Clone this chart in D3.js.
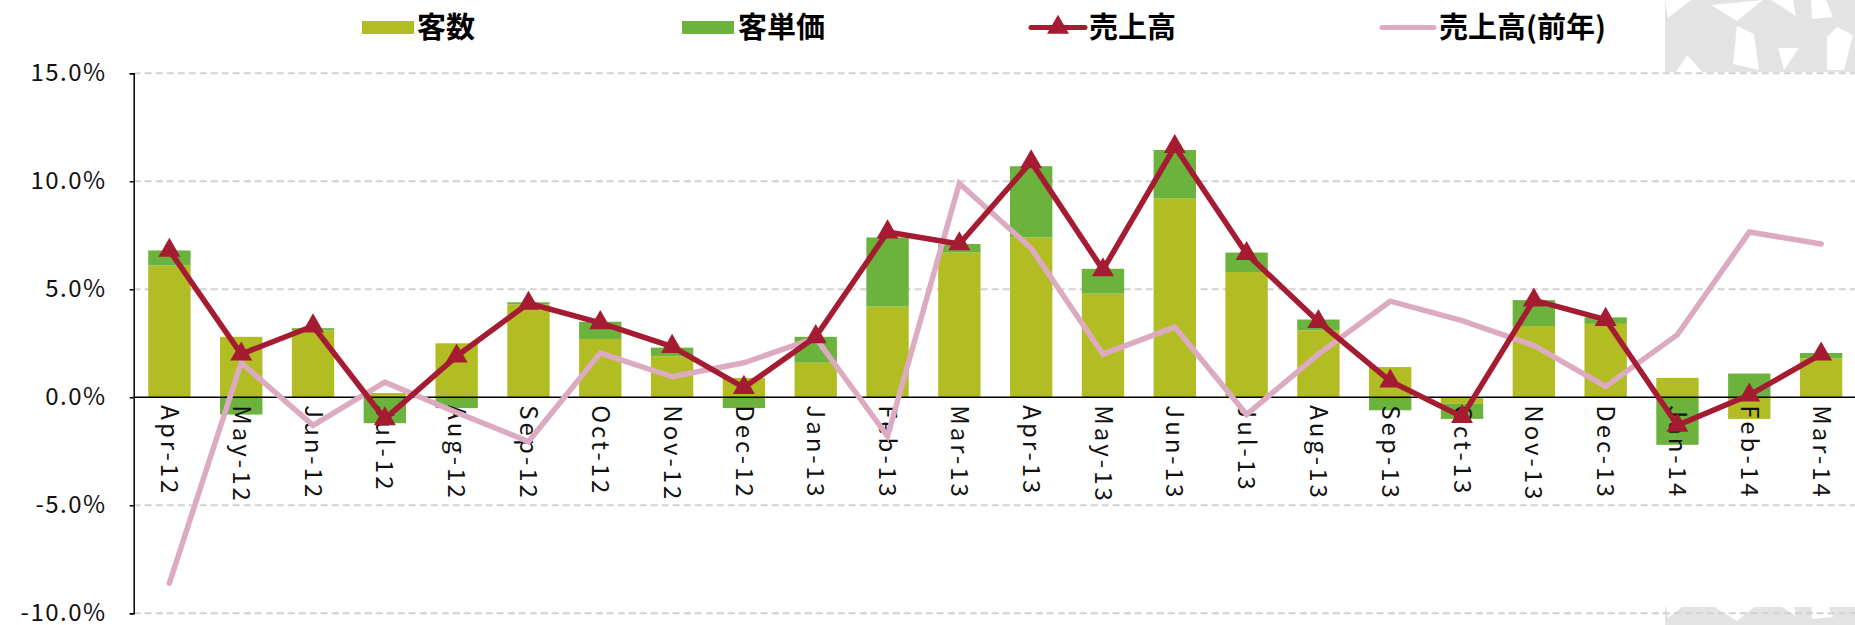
<!DOCTYPE html>
<html>
<head>
<meta charset="utf-8">
<script src="https://cdn.jsdelivr.net/npm/d3@7"></script>
<style>
  body { margin: 0; background: #fff; }
  svg { display: block; font-family: "Noto Sans CJK JP", "Noto Sans", sans-serif; }
</style>
</head>
<body>
<div id="chart"></div>
<script>
// Mesos
const categories = ["Apr-12","May-12","Jun-12","Jul-12","Aug-12","Sep-12","Oct-12","Nov-12","Dec-12",
  "Jan-13","Feb-13","Mar-13","Apr-13","May-13","Jun-13","Jul-13","Aug-13","Sep-13","Oct-13","Nov-13","Dec-13",
  "Jan-14","Feb-14","Mar-14"];

// 客数 (nombre de clients)
const kyakusu = [6.1, 2.8, 3.1, 0.2, 2.5, 4.3, 2.7, 1.9, 0.9, 1.6, 4.2, 6.7, 7.4, 4.8, 9.2, 5.8, 3.1, 1.4, -0.3, 3.3, 3.4, 0.9, -1.0, 1.8];
// 客単価 (preu per client)
const tanka = [0.7, -0.8, 0.1, -1.2, -0.5, 0.1, 0.8, 0.4, -0.5, 1.2, 3.2, 0.4, 3.3, 1.15, 2.25, 0.9, 0.5, -0.6, -0.7, 1.2, 0.3, -2.2, 1.1, 0.25];
// 売上高
const uriage = [6.8, 2.0, 3.3, -1.0, 1.9, 4.35, 3.45, 2.35, 0.45, 2.8, 7.65, 7.1, 10.9, 5.9, 11.6, 6.65, 3.5, 0.75, -0.9, 4.5, 3.6, -1.3, 0.1, 2.0];
// 売上高(前年)
const uriagePrev = [-8.6, 1.6, -1.3, 0.7, -0.7, -2.05, 2.05, 0.95, 1.6, 2.75, -1.8, 9.9, 6.9, 2.0, 3.25, -0.8, 2.0, 4.45, 3.55, 2.4, 0.5, 2.9, 7.65, 7.1];

const yTicks = [-10, -5, 0, 5, 10, 15];

const width = 1855, height = 625;
const axisX = 133.7;

const cYellow = "#b1bd23", cGreen = "#6cb33e", cRed = "#a51b31", cPink = "#dcabc1";

const svg = d3.select("#chart").append("svg")
  .attr("width", width)
  .attr("height", height);

// Fons decoratiu (patró gris)
const defs = svg.append("defs");
const pat = defs.append("pattern")
  .attr("id", "deco")
  .attr("patternUnits", "userSpaceOnUse")
  .attr("x", 1665).attr("y", 0)
  .attr("width", 195).attr("height", 75);
pat.append("rect").attr("width", 195).attr("height", 75).attr("fill", "#e3e3e3");
const whites = [
  [[0,0],[26,0],[3,18]],
  [[46,5],[98,0],[72,21]],
  [[72,26],[89,34],[94,70],[68,64]],
  [[106,0],[128,0],[131,16]],
  [[146,0],[161,0],[168,17],[147,19]],
  [[162,37],[172,27],[188,35],[179,70],[162,70]],
  [[22,55],[40,75],[9,75]],
  [[113,48],[134,48],[119,70]]
];
pat.selectAll("polygon").data(whites).join("polygon")
  .attr("points", d => d.map(p => p.join(",")).join(" "))
  .attr("fill", "#fff");

svg.append("rect").attr("x", 1665).attr("y", 0).attr("width", 190).attr("height", 72).attr("fill", "url(#deco)");
svg.append("rect").attr("x", 1665).attr("y", 607).attr("width", 190).attr("height", 18).attr("fill", "url(#deco)");

// Escales
const x = d3.scaleBand()
  .domain(categories)
  .range([133.5, 1857])
  .paddingInner(0.41)
  .paddingOuter(0.205);

const y = d3.scaleLinear()
  .domain([-10, 15])
  .range([613.3, 73.3]);

const cx = d => x(d) + x.bandwidth() / 2;

// Línies de graella
svg.append("g")
  .selectAll("line")
  .data(yTicks.filter(d => d !== 0))
  .join("line")
  .attr("x1", axisX).attr("x2", width)
  .attr("y1", d => y(d)).attr("y2", d => y(d))
  .attr("stroke", "#d2d2d2")
  .attr("stroke-width", 2)
  .attr("stroke-dasharray", "7,4");

// Barres apilades
const table = categories.map((c, i) => ({ cat: c, kyakusu: kyakusu[i], tanka: tanka[i] }));
const stack = d3.stack().keys(["kyakusu", "tanka"]).offset(d3.stackOffsetDiverging);
const series = stack(table);
const colors = { kyakusu: cYellow, tanka: cGreen };

svg.append("g")
  .selectAll("g")
  .data(series)
  .join("g")
  .attr("fill", d => colors[d.key])
  .selectAll("rect")
  .data(d => d)
  .join("rect")
  .attr("x", d => x(d.data.cat))
  .attr("width", x.bandwidth())
  .attr("y", d => y(Math.max(d[0], d[1])))
  .attr("height", d => Math.abs(y(d[0]) - y(d[1])));

// Eix zero
svg.append("line")
  .attr("x1", axisX).attr("x2", width)
  .attr("y1", y(0)).attr("y2", y(0))
  .attr("stroke", "#000").attr("stroke-width", 1.5);

// Eix Y
const yAxis = svg.append("g")
  .attr("transform", `translate(${axisX},0)`)
  .call(d3.axisLeft(y).tickValues(yTicks).tickSize(4).tickPadding(23).tickFormat(d => d.toFixed(1) + "%"));
yAxis.select(".domain").attr("stroke", "#000").attr("stroke-width", 1.5);
yAxis.selectAll(".tick line").attr("stroke", "#000").attr("stroke-width", 1.5);
yAxis.selectAll("text")
  .style("font-family", "'Noto Sans CJK JP', sans-serif")
  .style("font-size", "24px")
  .style("letter-spacing", "1.5px")
  .attr("dy", "0.3em")
  .attr("fill", "#111");

// Eix X (etiquetes verticals)
const xAxis = svg.append("g")
  .attr("transform", `translate(0,${y(0)})`)
  .call(d3.axisBottom(x).tickSize(0).tickPadding(0));
xAxis.select(".domain").remove();
xAxis.selectAll("text")
  .attr("transform", "rotate(90)")
  .attr("x", 8)
  .attr("y", 0)
  .attr("dy", "0.35em")
  .attr("text-anchor", "start")
  .style("font-family", "'Noto Sans CJK JP', sans-serif")
  .style("font-size", "24px")
  .style("letter-spacing", "3px")
  .attr("fill", "#111");

// Línia de l'any anterior
const line = d3.line()
  .x((d, i) => cx(categories[i]))
  .y(d => y(d));

svg.append("path")
  .datum(uriagePrev)
  .attr("fill", "none")
  .attr("stroke", cPink)
  .attr("stroke-width", 5.5)
  .attr("stroke-linecap", "round")
  .attr("d", line);

// Línia de vendes
svg.append("path")
  .datum(uriage)
  .attr("fill", "none")
  .attr("stroke", cRed)
  .attr("stroke-width", 5.5)
  .attr("d", line);

const tri = d3.symbol(d3.symbolTriangle).size(210);
svg.append("g")
  .selectAll("path")
  .data(uriage)
  .join("path")
  .attr("transform", (d, i) => `translate(${cx(categories[i])},${y(d)})`)
  .attr("d", tri)
  .attr("fill", cRed);

// Llegenda
const legend = svg.append("g")
  .style("font-family", "'Noto Sans CJK JP', sans-serif")
  .style("font-size", "29px")
  .style("font-weight", "bold");
const legY = 27.5;

legend.append("rect").attr("x", 362).attr("y", 21).attr("width", 52).attr("height", 13).attr("fill", cYellow);
legend.append("text").attr("x", 417).attr("y", legY).attr("dy", "0.36em").text("客数");

legend.append("rect").attr("x", 682).attr("y", 21).attr("width", 52).attr("height", 13).attr("fill", cGreen);
legend.append("text").attr("x", 738).attr("y", legY).attr("dy", "0.36em").text("客単価");

legend.append("line").attr("x1", 1031).attr("x2", 1085).attr("y1", legY).attr("y2", legY)
  .attr("stroke", cRed).attr("stroke-width", 5).attr("stroke-linecap", "round");
legend.append("path").attr("transform", `translate(1058,${legY})`).attr("d", tri).attr("fill", cRed);
legend.append("text").attr("x", 1089).attr("y", legY).attr("dy", "0.36em").text("売上高");

legend.append("line").attr("x1", 1382).attr("x2", 1434).attr("y1", legY).attr("y2", legY)
  .attr("stroke", cPink).attr("stroke-width", 5).attr("stroke-linecap", "round");
legend.append("text").attr("x", 1439).attr("y", legY).attr("dy", "0.36em").text("売上高(前年)");
</script>
</body>
</html>
